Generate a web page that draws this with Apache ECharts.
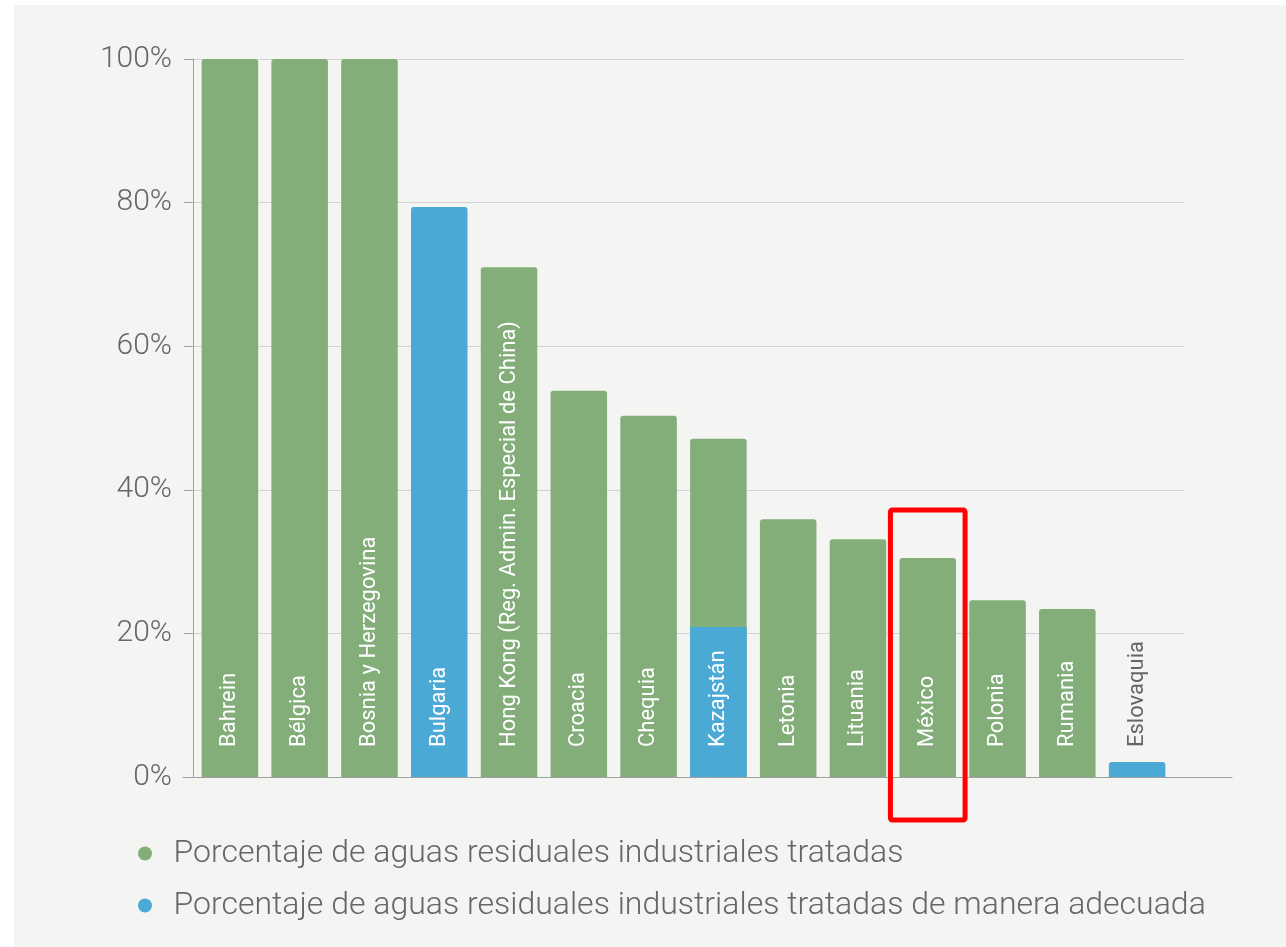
<!DOCTYPE html>
<html>
<head>
<meta charset="utf-8">
<script src="https://cdn.jsdelivr.net/npm/echarts@6/dist/echarts.min.js"></script>
<style>
  html, body { margin: 0; padding: 0; background: #ffffff; }
  #chart { width: 1286px; height: 947px; }
</style>
</head>
<body>
<div id="chart"></div>
<script>
// Industrial wastewater treatment by country (%)
const countries = ['Bahrein', 'Bélgica', 'Bosnia y Herzegovina', 'Bulgaria',
  'Hong Kong (Reg. Admin. Especial de China)', 'Croacia', 'Chequia', 'Kazajstán',
  'Letonia', 'Lituania', 'México', 'Polonia', 'Rumania', 'Eslovaquia'];

const treated = [100, 100, 100, null, 71.0, 53.8, 50.3, 47.1, 35.9, 33.1, 30.5, 24.6, 23.4, null];
const treatedAdequately = [null, null, null, 79.4, null, null, null, 20.9, null, null, null, null, null, 2.1];

const yTicks = [0, 20, 40, 60, 80, 100];

const seriesNames = [
  'Porcentaje de aguas residuales industriales tratadas',
  'Porcentaje de aguas residuales industriales tratadas de manera adecuada'
];

const highlighted = 'México';

const GREEN = '#83ad79';
const BLUE = '#4ba9d6';
const BG = '#f4f4f2';
const FONT = 'Roboto, "Noto Sans", sans-serif';

const chart = echarts.init(document.getElementById('chart'), null, { renderer: 'canvas' });

// Blue bars that sit inside a taller green bar keep a square top
const blueData = treatedAdequately.map((v, i) => {
  if (v == null) return null;
  if (treated[i] != null && treated[i] > v) {
    return { value: v, itemStyle: { borderRadius: 0 } };
  }
  return v;
});

const gridTop = 59, gridBottom = 947 - 777;

const backgroundRect = {
  type: 'rect', z: -10, silent: true,
  shape: { x: 14, y: 5, width: 1286 - 14, height: 947 - 5 },
  style: { fill: BG }
};

const option = {
  backgroundColor: '#ffffff',
  animation: false,
  textStyle: { fontFamily: FONT },
  graphic: [backgroundRect],
  legend: {
    orient: 'vertical',
    left: 133,
    top: 831,
    itemWidth: 47,
    itemHeight: 14,
    itemGap: 17,
    icon: 'circle',
    selectedMode: false,
    textStyle: { fontSize: 32, lineHeight: 35, color: '#666', fontWeight: 300, fontFamily: FONT },
    data: seriesNames
  },
  grid: [
    // gridlines and value axis
    { left: 193, right: 1286 - 1184, top: gridTop, bottom: gridBottom },
    // bars
    { left: 195, right: 1286 - 1172, top: gridTop, bottom: gridBottom },
    // baseline
    { left: 183, right: 1286 - 1232, top: gridTop, bottom: gridBottom }
  ],
  xAxis: [
    { gridIndex: 0, type: 'value', show: false, min: 0, max: 1 },
    {
      gridIndex: 1, type: 'category', data: countries, z: 10,
      axisLine: { show: false }, axisTick: { show: false },
      axisLabel: {
        inside: true, rotate: 90, margin: 30, interval: 0,
        fontSize: 22, fontFamily: FONT,
        color: (val) => {
          const i = countries.indexOf(val);
          const h = Math.max(treated[i] || 0, treatedAdequately[i] || 0);
          return h < 10 ? '#666' : '#ffffff';
        }
      }
    },
    {
      gridIndex: 2, type: 'value', min: 0, max: 1, position: 'bottom',
      axisLine: { show: true, lineStyle: { color: '#a0a0a0', width: 1 } },
      axisTick: { show: false }, axisLabel: { show: false }, splitLine: { show: false }
    }
  ],
  yAxis: [
    {
      gridIndex: 0, type: 'value', min: 0, max: 100, interval: 20,
      axisLine: { show: true, lineStyle: { color: '#a0a0a0' } },
      axisTick: { show: true, length: 9, lineStyle: { color: '#a0a0a0' } },
      axisLabel: {
        margin: 21, fontSize: 30, color: '#666', fontWeight: 300, fontFamily: FONT,
        formatter: v => yTicks.includes(v) ? v + '%' : ''
      },
      splitLine: { show: true, lineStyle: { color: '#d2d2d2', width: 1 } }
    },
    { gridIndex: 1, type: 'value', min: 0, max: 100, show: false },
    { gridIndex: 2, type: 'value', min: 0, max: 100, show: false }
  ],
  series: [
    {
      name: seriesNames[0], type: 'bar', xAxisIndex: 1, yAxisIndex: 1,
      data: treated, barCategoryGap: '19%', barGap: '-100%',
      itemStyle: { color: GREEN, borderRadius: [3, 3, 0, 0] }
    },
    {
      name: seriesNames[1], type: 'bar', xAxisIndex: 1, yAxisIndex: 1,
      data: blueData, barCategoryGap: '19%', barGap: '-100%',
      itemStyle: { color: BLUE, borderRadius: [3, 3, 0, 0] }
    }
  ]
};

chart.setOption(option);

// Highlight frame around one country, placed through the chart's own scales
const idx = countries.indexOf(highlighted);
const cx = chart.convertToPixel({ xAxisIndex: 1 }, idx);
const c0 = chart.convertToPixel({ xAxisIndex: 1 }, 0);
const c1 = chart.convertToPixel({ xAxisIndex: 1 }, 1);
const band = c1 - c0;
const yTop = chart.convertToPixel({ yAxisIndex: 1 }, 37.2);
const yBot = chart.convertToPixel({ yAxisIndex: 1 }, -6.0);
const w = band * 1.07;
chart.setOption({
  graphic: [
    backgroundRect,
    { type: 'rect', z: 100, silent: true,
      shape: { x: cx - w / 2, y: yTop, width: w, height: yBot - yTop, r: 2 },
      style: { fill: 'none', stroke: '#ff0000', lineWidth: 5 } }
  ]
}, { replaceMerge: ['graphic'] });
</script>
</body>
</html>
